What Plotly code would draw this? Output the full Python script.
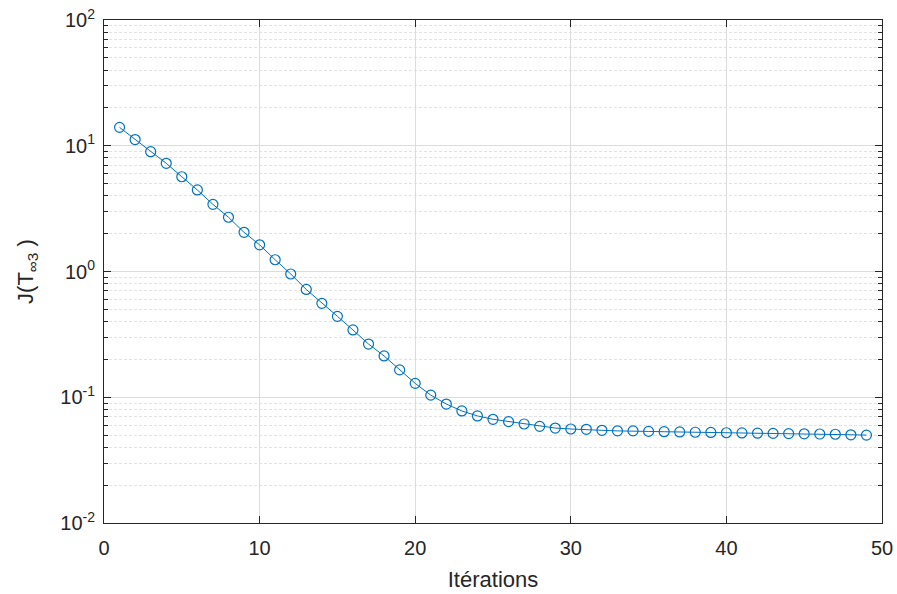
import plotly.graph_objects as go

# values (cost per iteration)
iterations = list(range(1, 50))
cost = [14.0, 11.2, 8.97, 7.25, 5.67, 4.45, 3.42, 2.70, 2.05, 1.63,
        1.24, 0.955, 0.72, 0.558, 0.44, 0.343, 0.265, 0.213, 0.165, 0.129,
        0.104, 0.0883, 0.0778, 0.071, 0.0668, 0.064, 0.0613, 0.0587, 0.0569, 0.0559,
        0.0556, 0.0546, 0.054, 0.054, 0.0535, 0.0532, 0.053, 0.0527, 0.0525, 0.0522,
        0.052, 0.0518, 0.0516, 0.0514, 0.0512, 0.051, 0.0508, 0.0503, 0.050]

y_ticks = [0.01, 0.1, 1, 10, 100]
y_labels = ["10<sup>-2</sup>", "10<sup>-1</sup>", "10<sup>0</sup>", "10<sup>1</sup>", "10<sup>2</sup>"]
x_ticks = [0, 10, 20, 30, 40, 50]

minor_vals = [m * d for d in [0.01, 0.1, 1, 10] for m in range(2, 10)]

blue = "#0072BD"
dark = "#262626"
font = "Liberation Sans, Arial, sans-serif"

fig = go.Figure()
fig.add_trace(go.Scatter(
    x=iterations,
    y=cost,
    mode="lines+markers",
    line=dict(color=blue, width=1),
    marker=dict(symbol="circle-open", size=10, color=blue, line=dict(width=1.2)),
    showlegend=False
))

axis_common = dict(
    showline=True, linecolor=dark, linewidth=1, mirror="allticks",
    ticks="inside", ticklen=7, tickcolor=dark,
    showgrid=True, gridcolor="#dcdcdc", gridwidth=1,
    zeroline=False, automargin=False,
    tickfont=dict(family=font, size=20, color=dark),
)

fig.update_xaxes(
    range=[0, 50], tickvals=x_ticks, ticklabelstandoff=7,
    title=dict(text="Itérations", font=dict(family=font, size=22, color=dark), standoff=13),
    **axis_common
)
fig.update_yaxes(
    type="log", range=[-2, 2], tickvals=y_ticks, ticktext=y_labels, ticklabelstandoff=4,
    title=dict(text="J(T<sub>∞3</sub> )", font=dict(family=font, size=22, color=dark), standoff=20),
    minor=dict(tickvals=minor_vals, showgrid=True, gridcolor="#e2e2e2", griddash="3px,2px",
               ticks="inside", ticklen=4, tickcolor=dark),
    **axis_common
)

fig.update_layout(
    width=897, height=594,
    margin=dict(l=104, r=15, t=20, b=71),
    plot_bgcolor="white", paper_bgcolor="white",
)

# drop the default body margin so the figure fills the window exactly
fig.write_html(
    "out.html",
    config={"displayModeBar": False},
    post_script="document.body.style.margin='0';document.body.style.overflow='hidden';",
)
